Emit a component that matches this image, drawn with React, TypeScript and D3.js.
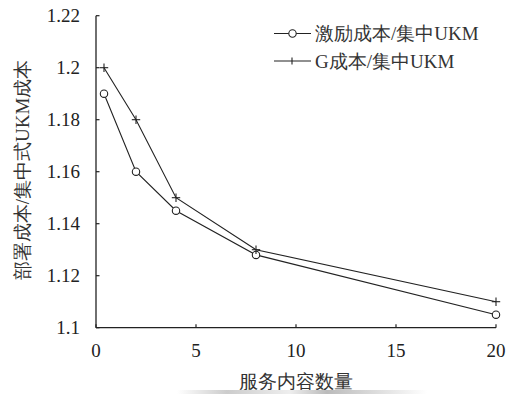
import React from "react";
import * as d3 from "d3";

const xValues = [0.4, 2, 4, 8, 20];
const incentiveRatio = [1.19, 1.16, 1.145, 1.128, 1.105];
const gRatio = [1.2, 1.18, 1.15, 1.13, 1.11];
const xTicks = [0, 5, 10, 15, 20];
const yTicks = [1.1, 1.12, 1.14, 1.16, 1.18, 1.2, 1.22];
const yTickLabels = ["1.1", "1.12", "1.14", "1.16", "1.18", "1.2", "1.22"];
const legendLabels = ["激励成本/集中UKM", "G成本/集中UKM"];
const xTitle = "服务内容数量";
const yTitle = "部署成本/集中式UKM成本";

const W = 513;
const H = 394;
const FONT = "Liberation Serif";
const INK = "#222";

export default function App() {
  const x = d3.scaleLinear().domain([0, 20]).range([96, 496]);
  const y = d3.scaleLinear().domain([1.1, 1.22]).range([327.7, 15.7]);
  const line = d3
    .line<number>()
    .x((_, i) => x(xValues[i]))
    .y((d) => y(d));
  const x0 = x(0);
  const y0 = y(1.1);
  const fs = 19;
  const tstyle = { fontFamily: FONT };

  const plus = (cx: number, cy: number, k: string) => (
    <g key={k} stroke={INK} strokeWidth={1.1}>
      <line x1={cx - 4.2} x2={cx + 4.2} y1={cy} y2={cy} />
      <line x1={cx} x2={cx} y1={cy - 4.2} y2={cy + 4.2} />
    </g>
  );

  return (
    <svg
      width={W}
      height={H}
      style={{ position: "absolute", left: 0, top: 0, background: "#fff" }}
    >
      <defs>
        <linearGradient id="smudge" x1="0" x2="1" y1="0" y2="0">
          <stop offset="0" stopColor="#fff" />
          <stop offset="0.2" stopColor="#ccc" />
          <stop offset="0.45" stopColor="#eee" />
          <stop offset="0.6" stopColor="#bbb" />
          <stop offset="0.8" stopColor="#ddd" />
          <stop offset="1" stopColor="#fff" />
        </linearGradient>
      </defs>
      <rect x={0} y={0} width={W} height={H} fill="#fff" />
      {/* axes */}
      <line x1={x0} x2={x0} y1={y(1.22)} y2={y0} stroke={INK} strokeWidth={1.3} />
      <line x1={x0} x2={x(20)} y1={y0} y2={y0} stroke={INK} strokeWidth={1.3} />
      {yTicks.map((t, i) => (
        <g key={"yt" + i}>
          <line x1={x0} x2={x0 + 3.5} y1={y(t)} y2={y(t)} stroke={INK} strokeWidth={1.2} />
          <text
            x={80}
            y={y(t)}
            dy="0.35em"
            textAnchor="end"
            fontSize={fs}
            fill={INK}
            style={tstyle}
          >
            {yTickLabels[i]}
          </text>
        </g>
      ))}
      {xTicks.map((t, i) => (
        <g key={"xt" + i}>
          <line x1={x(t)} x2={x(t)} y1={y0} y2={y0 - 3.5} stroke={INK} strokeWidth={1.2} />
          <text x={x(t)} y={357} textAnchor="middle" fontSize={fs} fill={INK} style={tstyle}>
            {t}
          </text>
        </g>
      ))}
      {/* titles */}
      <text x={296} y={388} textAnchor="middle" fontSize={19} fill="#333" style={tstyle}>
        {xTitle}
      </text>
      <text
        transform={`translate(29,170) rotate(-90)`}
        textAnchor="middle"
        fontSize={19}
        fill="#333"
        style={tstyle}
      >
        {yTitle}
      </text>
      <rect x={177} y={390} width={250} height={4} fill="url(#smudge)" />
      {/* series */}
      <path d={line(incentiveRatio) || ""} fill="none" stroke={INK} strokeWidth={1.1} />
      <path d={line(gRatio) || ""} fill="none" stroke={INK} strokeWidth={1.1} />
      {incentiveRatio.map((v, i) => (
        <circle
          key={"c" + i}
          cx={x(xValues[i])}
          cy={y(v)}
          r={3.7}
          fill="#fff"
          stroke={INK}
          strokeWidth={1.1}
        />
      ))}
      {gRatio.map((v, i) => plus(x(xValues[i]), y(v), "p" + i))}
      {/* legend */}
      <g>
        <line x1={274} x2={311} y1={33.5} y2={33.5} stroke={INK} strokeWidth={1.1} />
        <circle cx={292.5} cy={33.5} r={3.7} fill="#fff" stroke={INK} strokeWidth={1.1} />
        <text x={315} y={33.5} dy="0.36em" fontSize={fs} fill="#333" style={tstyle}>
          {legendLabels[0]}
        </text>
        <line x1={274} x2={311} y1={61} y2={61} stroke={INK} strokeWidth={1.1} />
        <line x1={292} x2={292} y1={57.5} y2={64.5} stroke={INK} strokeWidth={1.1} />
        <text x={315} y={61} dy="0.36em" fontSize={fs} fill="#333" style={tstyle}>
          {legendLabels[1]}
        </text>
      </g>
    </svg>
  );
}
